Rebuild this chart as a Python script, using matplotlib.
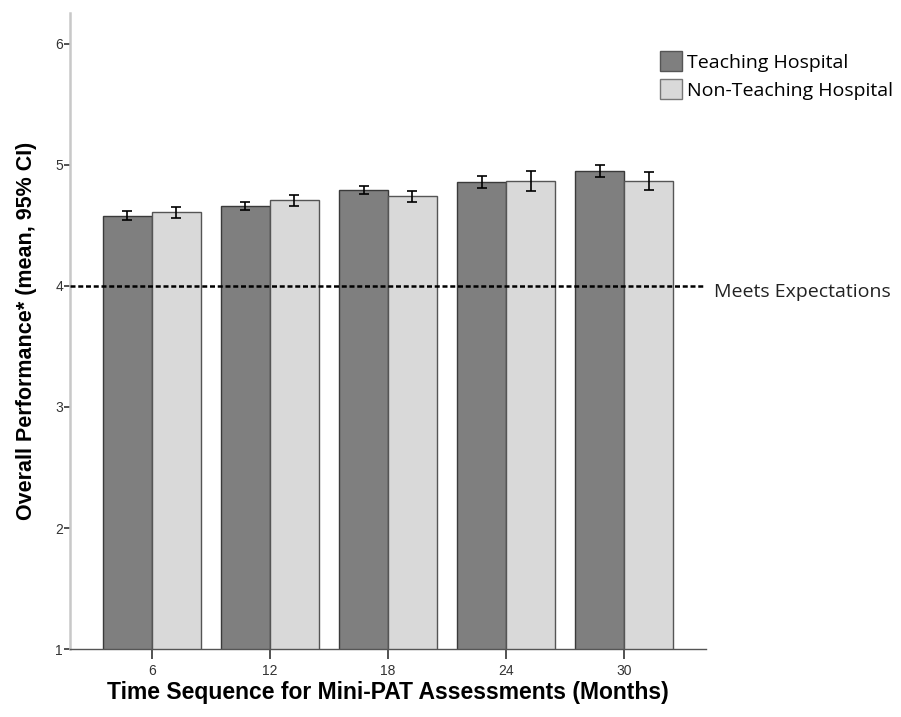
import numpy as np
import matplotlib
matplotlib.use("Agg")
import matplotlib.pyplot as plt
from matplotlib.patches import Patch

months = [6, 12, 18, 24, 30]
teaching = [4.58, 4.66, 4.79, 4.86, 4.95]
teaching_ci = [0.036, 0.033, 0.033, 0.05, 0.053]
non_teaching = [4.61, 4.71, 4.74, 4.87, 4.87]
non_teaching_ci = [0.045, 0.045, 0.045, 0.083, 0.074]
expectation = 4

dark = "#7f7f7f"
light = "#d9d9d9"
edge = "#3a3a3a"

fig = plt.figure(figsize=(9.01, 7.17), dpi=100)
ax = fig.add_axes([0.0777, 0.0948, 0.7059, 0.8871])

x = np.array(months, dtype=float)
w = 2.48
ax.bar(x - w / 2, teaching, width=w, bottom=0, color=dark, edgecolor=edge, linewidth=1.0, zorder=2)
ax.bar(x + w / 2, non_teaching, width=w, bottom=0, color=light, edgecolor="#555555", linewidth=1.0, zorder=2)
ax.errorbar(x - w / 2, teaching, yerr=teaching_ci, fmt="none", ecolor="black",
            elinewidth=1.2, capsize=3.6, capthick=1.2, zorder=4)
ax.errorbar(x + w / 2, non_teaching, yerr=non_teaching_ci, fmt="none", ecolor="black",
            elinewidth=1.2, capsize=3.6, capthick=1.2, zorder=4)

# reference line for the "meets expectations" score
ax.axhline(expectation, color="black", linestyle=(0, (2.0, 1.1)), linewidth=1.8, zorder=3)
ax.text(1.013, expectation - 0.05, "Meets Expectations", transform=ax.get_yaxis_transform(),
        ha="left", va="center", fontsize=14, family="Open Sans", color="#222222")

ax.set_xlim(1.85, 34.15)
ax.set_ylim(1, 6.256)
ax.set_xticks(months)
ax.set_xticklabels([str(m) for m in months])
ax.set_yticks([1, 2, 3, 4, 5, 6])

for s in ["top", "right"]:
    ax.spines[s].set_visible(False)
ax.spines["left"].set_color("#c8c8c8")
ax.spines["left"].set_linewidth(1.8)
ax.spines["bottom"].set_color("#555555")
ax.spines["bottom"].set_linewidth(1.0)
ax.tick_params(axis="y", length=4, width=1.2, color="#333333", labelsize=10,
               labelcolor="#333333", pad=1)
ax.tick_params(axis="x", length=7, width=1.2, color="#333333", labelsize=10,
               labelcolor="#333333", pad=4)
for lab in ax.get_xticklabels() + ax.get_yticklabels():
    lab.set_family("Liberation Sans")

ax.set_xlabel("Time Sequence for Mini-PAT Assessments (Months)", fontsize=16.5,
              fontweight="bold", family="Liberation Sans", labelpad=2)
ax.set_ylabel("Overall Performance* (mean, 95% CI)", fontsize=15.5,
              fontweight="bold", family="Liberation Sans", labelpad=13)

handles = [
    Patch(facecolor=dark, edgecolor="#555555", label="Teaching Hospital"),
    Patch(facecolor=light, edgecolor="#777777", label="Non-Teaching Hospital"),
]
fig.legend(handles=handles, loc="upper left", bbox_to_anchor=(660 / 901, 1 - 51 / 717),
           frameon=False, handlelength=1.15, handleheight=1.2, handletextpad=0.25,
           labelspacing=0.4, borderpad=0, borderaxespad=0,
           prop={"family": "Open Sans", "size": 14})

fig.savefig("out.png", dpi=100)
